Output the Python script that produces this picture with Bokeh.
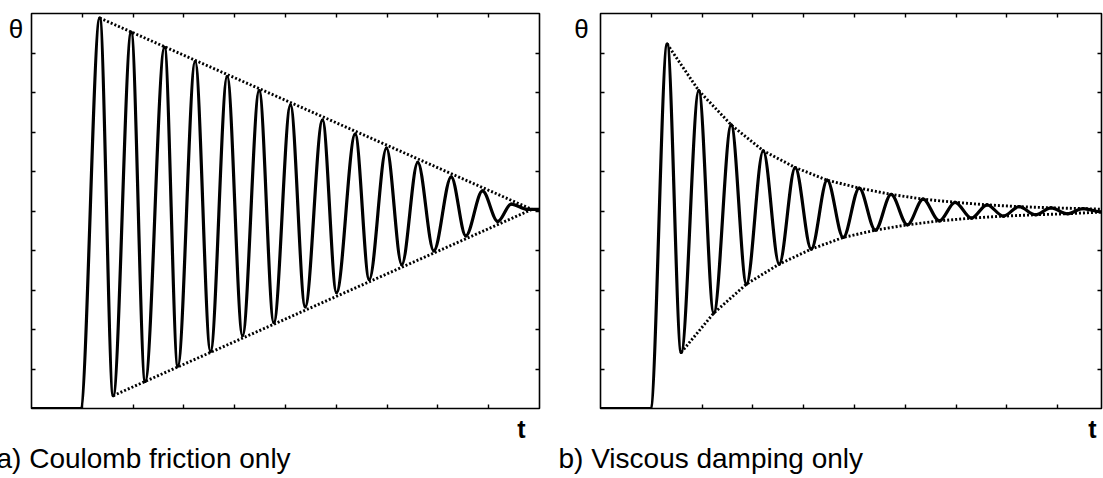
from bokeh.plotting import figure
from bokeh.models import Range1d, LinearAxis, FixedTicker, Label, ColumnDataSource
from bokeh.layouts import row
from bokeh.embed import file_html
from bokeh.resources import INLINE

# ---------------- data ----------------
# a) Coulomb friction only: knots of the trace (start, extrema, rest)
coulomb_t = [0.0, 0.965, 1.344, 1.608, 1.963, 2.238, 2.618, 2.880, 3.222, 3.524,
             3.852, 4.154, 4.482, 4.770, 5.098, 5.388, 5.728, 6.004, 6.372, 6.648,
             6.988, 7.289, 7.604, 7.919, 8.262, 8.549, 8.878, 9.179, 9.443, 9.764, 10.0]
coulomb_theta = [-1.0, -1.0, 0.977, -0.935, 0.904, -0.863, 0.828, -0.785, 0.757, -0.711,
                 0.681, -0.631, 0.609, -0.565, 0.536, -0.485, 0.460, -0.413, 0.389, -0.347,
                 0.318, -0.272, 0.246, -0.202, 0.173, -0.126, 0.102, -0.053, 0.035, 0.008, 0.008]
# straight envelopes
coulomb_env_top_t = [1.344, 9.85]
coulomb_env_top = [0.977, 0.008]
coulomb_env_bot_t = [1.608, 9.85]
coulomb_env_bot = [-0.935, 0.008]

# b) Viscous damping only
viscous_t = [0.0, 0.984, 1.313, 1.589, 1.935, 2.230, 2.573, 2.874, 3.203, 3.518,
             3.833, 4.148, 4.463, 4.778, 5.093, 5.41, 5.72, 6.04, 6.35, 6.67,
             6.98, 7.30, 7.61, 7.93, 8.24, 8.56, 8.87, 9.19, 9.50, 9.862]
viscous_theta = [-1.0, -1.0, 0.845, -0.716, 0.609, -0.517, 0.436, -0.370, 0.305, -0.269,
                 0.220, -0.193, 0.156, -0.134, 0.116, -0.097, 0.084, -0.070, 0.060, -0.050,
                 0.044, -0.036, 0.031, -0.026, 0.022, -0.019, 0.016, -0.014, 0.012, -0.005]
viscous_env_top_t = viscous_t[2::2] + [9.862]
viscous_env_top = viscous_theta[2::2] + [0.009]
viscous_env_bot_t = viscous_t[3::2] + [9.862]
viscous_env_bot = viscous_theta[3::2] + [-0.008]

x_ticks = [1, 2, 3, 4, 5, 6, 7, 8, 9]
y_ticks = [-0.8, -0.6, -0.4, -0.2, 0.0, 0.2, 0.4, 0.6, 0.8]

captions = ["a) Coulomb friction only", "b) Viscous damping only"]
y_label = "θ"
x_label = "t"


def bezier_source(t, th):
    x0, x1 = t[:-1], t[1:]
    y0, y1 = th[:-1], th[1:]
    cx0 = [a + (b - a) / 3.0 for a, b in zip(x0, x1)]
    cx1 = [b - (b - a) / 3.0 for a, b in zip(x0, x1)]
    return ColumnDataSource(dict(x0=x0, y0=y0, x1=x1, y1=y1,
                                 cx0=cx0, cy0=y0, cx1=cx1, cy1=y1))


def make_panel(width, left, right, xmax, t, th, et, ev, bt, bv,
               caption, cap_x, th_x, t_x):
    p = figure(width=width, height=478, x_range=Range1d(0, xmax), y_range=Range1d(-1, 1),
               min_border_left=left, min_border_right=right, min_border_top=13,
               min_border_bottom=70, output_backend="svg", toolbar_location=None,
               background_fill_color="white", border_fill_color="white")
    p.grid.visible = False
    p.outline_line_color = "black"
    p.outline_line_width = 1.6
    p.outline_line_alpha = 1.0
    p.add_layout(LinearAxis(), "above")
    p.add_layout(LinearAxis(), "right")
    for ax in p.axis:
        ax.axis_line_color = None
        ax.major_tick_in = 4
        ax.major_tick_out = 0
        ax.major_tick_line_width = 1.4
        ax.major_tick_line_color = "black"
        ax.minor_tick_line_color = None
        ax.major_label_text_font_size = "0px"
        ax.major_label_text_color = None
        ax.major_label_standoff = 0
    for ax in p.xaxis:
        ax.ticker = FixedTicker(ticks=x_ticks)
    for ax in p.yaxis:
        ax.ticker = FixedTicker(ticks=y_ticks)

    # envelopes
    p.line(et, ev, line_color="black", line_width=2.9, line_dash="2 2")
    p.line(bt, bv, line_color="black", line_width=2.9, line_dash="2 2")
    # trace
    p.bezier(x0="x0", y0="y0", x1="x1", y1="y1", cx0="cx0", cy0="cy0", cx1="cx1", cy1="cy1",
             source=bezier_source(t, th), line_color="black", line_width=3.2, line_cap="round")

    p.add_layout(Label(x=th_x, y=0.847, text=y_label, text_font="Liberation Sans",
                       text_font_size="26px", text_align="center", text_baseline="bottom",
                       text_color="black"), "left")
    p.add_layout(Label(x=t_x, y=-1.174, text=x_label, text_font="Liberation Sans",
                       text_font_size="25px", text_font_style="bold", text_align="center",
                       text_baseline="bottom", text_color="black"), "left")
    p.add_layout(Label(x=cap_x, y=-1.331, text=caption, text_font="Liberation Sans",
                       text_font_size="28px", text_align="left", text_baseline="bottom",
                       text_color="black"), "below")
    return p


p1 = make_panel(549, 31, 10, 10.0, coulomb_t, coulomb_theta,
                coulomb_env_top_t, coulomb_env_top, coulomb_env_bot_t, coulomb_env_bot,
                captions[0], -0.689, -0.305, 9.646)
p2 = make_panel(554, 51, 2, 9.862, viscous_t, viscous_theta,
                viscous_env_top_t, viscous_env_top, viscous_env_bot_t, viscous_env_bot,
                captions[1], -0.827, -0.374, 9.685)

layout = row(p1, p2)
open("out.html", "w").write(file_html(layout, INLINE))
